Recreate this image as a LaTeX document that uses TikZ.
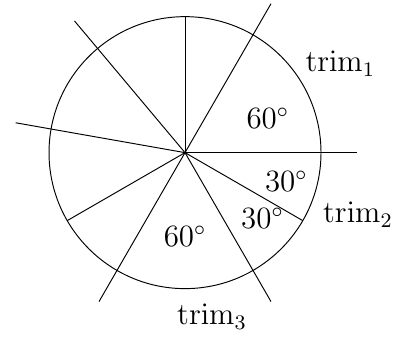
\documentclass[tikz,border=0pt]{standalone}
\begin{document}
\begin{tikzpicture}[font=\large, lbl/.style={inner sep=0pt, anchor=base west, scale=1.08}]
\useasboundingbox (-2.721,-2.711) rectangle (3.147,2.245);
\coordinate (O) at (0,0);
\draw (O) circle (2);
\foreach \a/\name in {0/r0,60/r60,130/r130,170/r170,240/r240,300/r300}
  \draw (O) -- (\a:2.53) coordinate (\name);
\foreach \a/\name in {90/s90,210/s210,330/s330}
  \draw (O) -- (\a:2) coordinate (\name);
\node[lbl] (t1) at (1.765,1.191) {$\mathrm{trim}_1$};
\node[lbl] (t2) at (2.025,-1.029) {$\mathrm{trim}_2$};
\node[lbl] (t3) at (-0.122,-2.534) {$\mathrm{trim}_3$};
\node[lbl] (a1) at (0.897,0.358) {$60^\circ$};
\node[lbl] (a2) at (1.169,-0.574) {$30^\circ$};
\node[lbl] (a3) at (0.819,-1.112) {$30^\circ$};
\node[lbl] (a4) at (-0.319,-1.382) {$60^\circ$};
\end{tikzpicture}
\end{document}
